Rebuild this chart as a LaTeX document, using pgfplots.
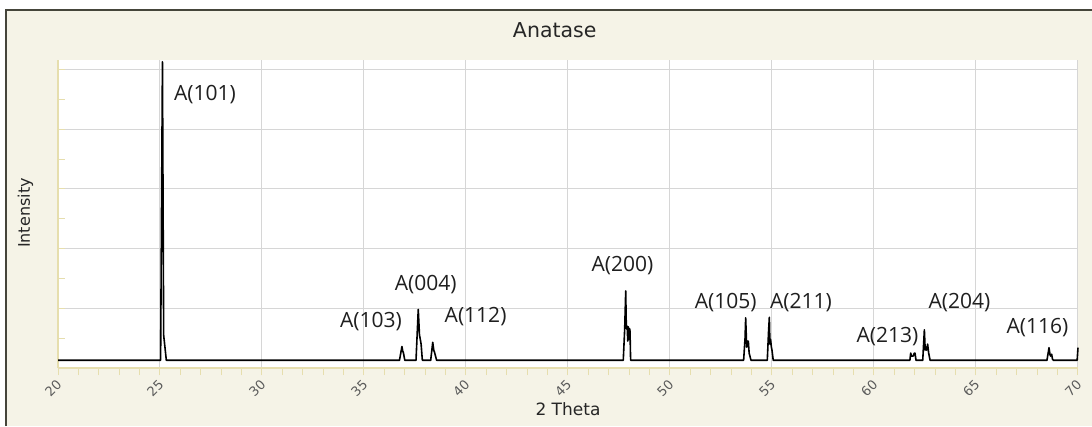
\documentclass[border=0pt]{standalone}
\usepackage{pgfplots}
\pgfplotsset{compat=1.18}
\usepackage{fontspec}
\setmainfont{DejaVu Sans}
\newfontfamily\peakfont{Open Sans}
\definecolor{bgbeige}{HTML}{F5F3E7}
\definecolor{frameclr}{HTML}{45453A}
\definecolor{tanaxis}{HTML}{E6DEAE}
\definecolor{gridgray}{HTML}{D6D6D6}
\definecolor{ticktext}{HTML}{5A5A5A}
\begin{document}
\begin{tikzpicture}[x=1pt,y=1pt]
\useasboundingbox (0,0) rectangle (1092,426);
\fill[white] (0,0) rectangle (1092,426);
\fill[bgbeige] (6,0) rectangle (1092,416);
\draw[frameclr, line width=2pt] (6,0) -- (6,416) -- (1092,416);
\begin{axis}[
  at={(58pt,58pt)}, anchor=south west,
  scale only axis, width=1020pt, height=308pt,
  xmin=20, xmax=70, ymin=0, ymax=5.16,
  axis background/.style={fill=white},
  axis x line*=bottom, axis y line*=left,
  axis line style={tanaxis, line width=1.2pt, -},
  xtick={20,25,...,70}, minor xtick={21,...,69},
  ytick={1,2,3,4,5}, minor ytick={0.5,1.5,...,4.5},
  yticklabels={},
  /pgf/number format/assume math mode=true,
  grid=major,
  major grid style={gridgray, line width=1pt},
  minor grid style={draw=none},
  x tick style={tanaxis, line width=1pt},
  y tick style={tanaxis, line width=1pt},
  xtick align=outside, ytick align=inside,
  major tick length=7pt, minor tick length=7pt,
  xticklabel style={rotate=45, anchor=east, font=\fontsize{13}{14}\selectfont, text=ticktext, yshift=-6pt, xshift=-1pt},
  title={Anatase},
  title style={at={(axis description cs:0.487,1.077)}, anchor=center, font=\fontsize{20.5}{22}\selectfont, text=black!85},
  xlabel={2 Theta},
  xlabel style={at={(axis description cs:0.5,-0.133)}, anchor=center, font=\fontsize{17}{20}\selectfont, text=black!85},
  ylabel={Intensity},
  ylabel style={at={(axis description cs:-0.032,0.503)}, anchor=center, rotate=0, font=\fontsize{16}{20}\selectfont, text=black!85},
  clip=false,
]
\addplot[black, line width=1.6pt, line join=round] coordinates {
(20,0.13) (25.03,0.13) (25.12,5.13) (25.18,0.55) (25.31,0.13)
(36.74,0.13) (36.86,0.36) (36.90,0.28) (36.93,0.26) (37.0,0.13)
(37.55,0.13) (37.66,0.98) (37.72,0.55) (37.76,0.48) (37.80,0.40) (37.86,0.13)
(38.27,0.13) (38.37,0.43) (38.42,0.30) (38.46,0.26) (38.56,0.13)
(47.71,0.13) (47.78,0.66) (47.83,1.29) (47.86,0.66) (47.90,0.70) (47.93,0.45) (47.96,0.69) (47.99,0.48) (48.02,0.66) (48.04,0.62) (48.07,0.13)
(53.61,0.13) (53.68,0.5) (53.71,0.84) (53.76,0.35) (53.80,0.45) (53.84,0.45) (53.88,0.25) (53.97,0.13)
(54.77,0.13) (54.83,0.6) (54.87,0.85) (54.90,0.40) (54.93,0.48) (54.97,0.35) (55.00,0.30) (55.06,0.13)
(61.76,0.13) (61.80,0.25) (61.84,0.20) (61.92,0.20) (61.98,0.25) (62.01,0.25) (62.06,0.13)
(62.39,0.13) (62.47,0.64) (62.51,0.30) (62.54,0.35) (62.58,0.30) (62.63,0.40) (62.68,0.25) (62.75,0.13)
(68.48,0.13) (68.58,0.34) (68.63,0.22) (68.66,0.20) (68.71,0.23) (68.75,0.15) (68.79,0.13)
(69.96,0.13) (70,0.34)
};
\begin{scope}[every node/.style={font=\peakfont\fontsize{21}{24}\selectfont, text=black!88}]
\node at (axis cs:27.2,4.58) {A(101)};
\node at (axis cs:35.34,0.77) {A(103)};
\node at (axis cs:38.03,1.40) {A(004)};
\node at (axis cs:40.47,0.86) {A(112)};
\node at (axis cs:47.67,1.71) {A(200)};
\node at (axis cs:52.73,1.10) {A(105)};
\node at (axis cs:56.42,1.10) {A(211)};
\node at (axis cs:60.66,0.52) {A(213)};
\node at (axis cs:64.19,1.09) {A(204)};
\node at (axis cs:68.01,0.67) {A(116)};
\end{scope}
\end{axis}
\end{tikzpicture}
\end{document}
